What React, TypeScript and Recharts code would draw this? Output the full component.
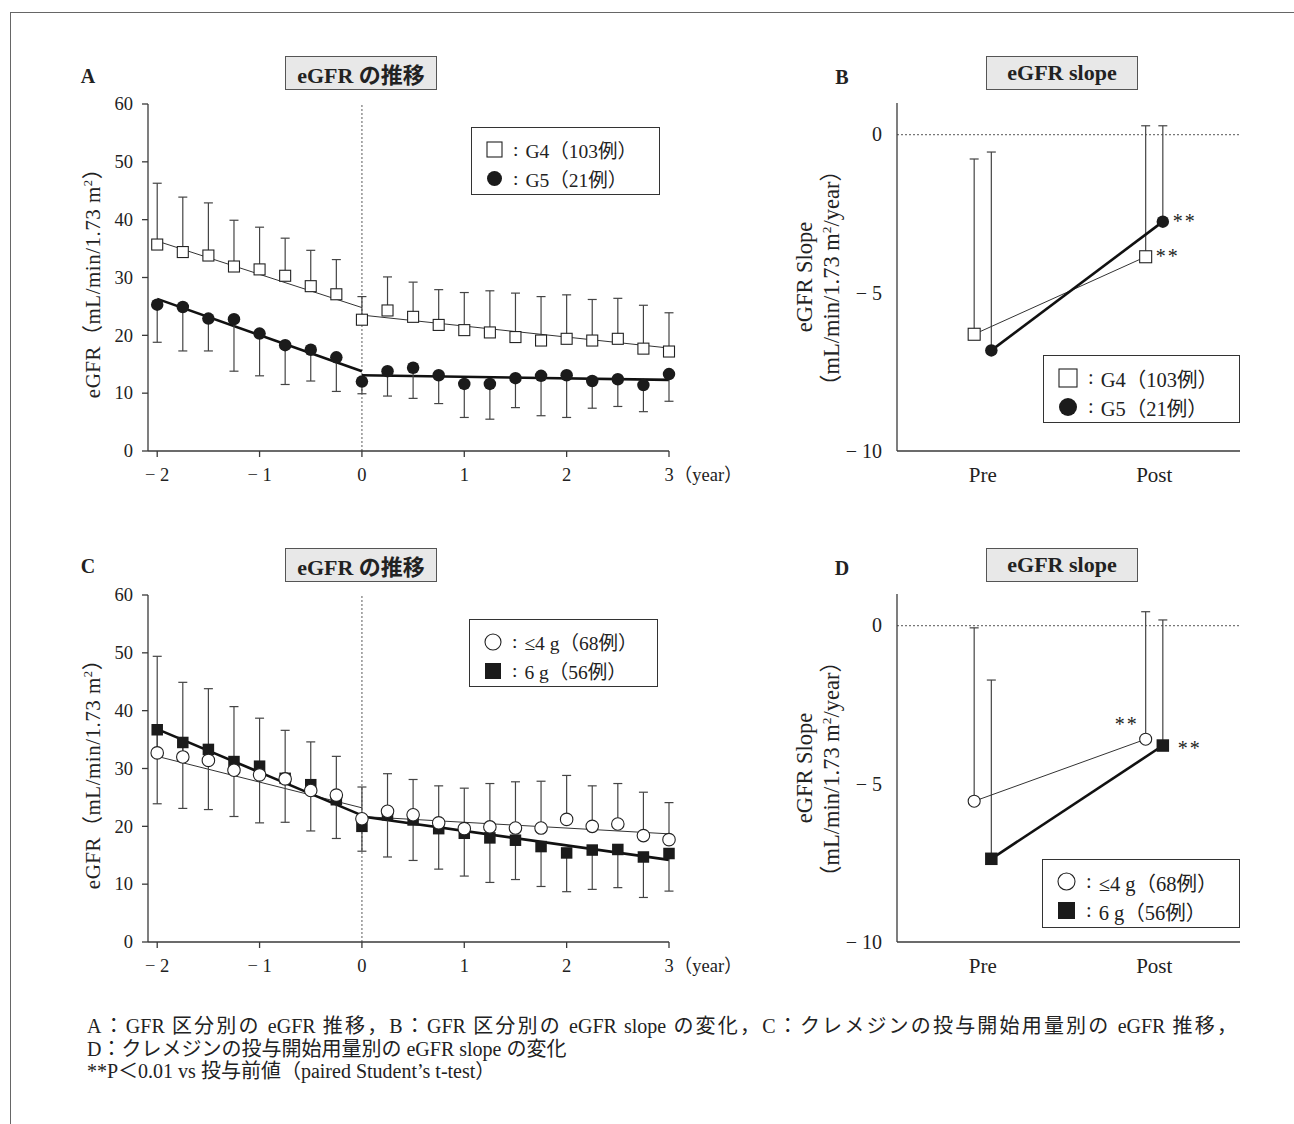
import React from 'react';
import { ComposedChart, Line, XAxis, YAxis, ErrorBar, ReferenceLine } from 'recharts';

const FONT = "'Liberation Serif', 'Noto Sans CJK JP', serif";
const INK = '#222';
const AXIS = '#3a3a3a';

// ---------- time-course panels (A, C)
const years = [-2, -1.75, -1.5, -1.25, -1, -0.75, -0.5, -0.25, 0, 0.25, 0.5, 0.75, 1, 1.25, 1.5, 1.75, 2, 2.25, 2.5, 2.75, 3];
const yearTicks = [-2, -1, 0, 1, 2, 3];
const egfrTicks = [0, 10, 20, 30, 40, 50, 60];

// Panel A: G4 (open squares, SD up) / G5 (filled circles, SD down)
const g4Mean = [35.7, 34.4, 33.8, 31.9, 31.4, 30.3, 28.5, 27.1, 22.7, 24.3, 23.2, 21.8, 20.9, 20.5, 19.7, 19.1, 19.4, 19.1, 19.4, 17.7, 17.2];
const g4Upper = [46.3, 43.9, 42.9, 39.9, 38.7, 36.8, 34.7, 33.1, 26.7, 30.1, 29.2, 27.9, 27.4, 27.7, 27.3, 26.7, 27.0, 26.2, 26.4, 25.2, 23.9];
const g5Mean = [25.3, 24.9, 22.9, 22.8, 20.3, 18.3, 17.5, 16.2, 12.0, 13.8, 14.4, 13.1, 11.6, 11.6, 12.6, 13.0, 13.1, 12.1, 12.4, 11.4, 13.3];
const g5Lower = [18.8, 17.3, 17.3, 13.8, 13.0, 11.5, 12.1, 10.3, 9.9, 9.5, 9.1, 8.2, 5.8, 5.5, 7.5, 6.1, 5.8, 7.4, 7.7, 6.8, 8.6];
const g4TrendPre = [[-2, 36.3], [0, 24.8]];
const g4TrendPost = [[0, 23.5], [3, 17.8]];
const g5TrendPre = [[-2, 26.3], [0, 13.8]];
const g5TrendPost = [[0, 13.1], [3, 12.3]];

// Panel C: <=4 g (open circles, SD up) / 6 g (filled squares, SD down)
const lowMean = [32.7, 32.0, 31.4, 29.7, 28.9, 28.2, 26.2, 25.4, 21.3, 22.6, 22.0, 20.6, 19.6, 19.9, 19.7, 19.7, 21.2, 20.0, 20.4, 18.4, 17.7];
const lowUpper = [49.4, 44.9, 43.8, 40.7, 38.7, 36.6, 34.6, 32.1, 26.8, 29.1, 28.1, 27.0, 26.6, 27.4, 27.7, 27.8, 28.8, 27.0, 27.4, 25.9, 24.1];
const highMean = [36.7, 34.5, 33.3, 31.2, 30.4, 28.3, 27.2, 24.6, 20.0, 22.0, 21.1, 19.6, 18.8, 18.0, 17.6, 16.5, 15.4, 15.9, 16.0, 14.7, 15.3];
const highLower = [23.9, 23.1, 22.9, 21.7, 20.6, 20.7, 19.2, 17.9, 15.7, 14.7, 14.1, 12.6, 11.4, 10.3, 10.8, 9.6, 8.7, 9.1, 9.4, 7.7, 8.8];
const lowTrendPre = [[-2, 32.1], [0, 23.2]];
const lowTrendPost = [[0, 21.7], [3, 18.7]];
const highTrendPre = [[-2, 36.8], [0, 21.9]];
const highTrendPost = [[0, 21.7], [3, 14.2]];

// ---------- slope panels (B, D)
const slopeCats = ['Pre', 'Post'];
const slopePos = [1, 3];
const slopeTicks = [-10, -5, 0];
const bG4Mean = [-6.31, -3.86];
const bG4Upper = [-0.77, 0.28];
const bG5Mean = [-6.82, -2.75];
const bG5Upper = [-0.55, 0.28];
const dLowMean = [-5.55, -3.59];
const dLowUpper = [-0.07, 0.44];
const dHighMean = [-7.37, -3.79];
const dHighUpper = [-1.72, 0.18];

// ---------- texts
const legendA = ['G4（103例）', 'G5（21例）'];
const legendC = ['≤4 g（68例）', '6 g（56例）'];
const captionLines = [
  'A：GFR 区分別の eGFR 推移，B：GFR 区分別の eGFR slope の変化，C：クレメジンの投与開始用量別の eGFR 推移，',
  'D：クレメジンの投与開始用量別の eGFR slope の変化',
  '**P＜0.01 vs 投与前値（paired Student’s t-test）',
];

// ---------- builders
type Shape = 'openSquare' | 'filledSquare' | 'openCircle' | 'filledCircle';
const withUpper = (xs: number[], mean: number[], upper: number[]) =>
  xs.map((x, i) => ({ x, y: mean[i], err: [0, +(upper[i] - mean[i]).toFixed(2)] }));
const withLower = (xs: number[], mean: number[], lower: number[]) =>
  xs.map((x, i) => ({ x, y: mean[i], err: [+(mean[i] - lower[i]).toFixed(2), 0] }));
const trendPts = (t: number[][]) => t.map(([x, y]) => ({ x, y }));
const OFF = 0.1;

function marker(shape: Shape, size: number, cx: number, cy: number) {
  const h = size / 2;
  switch (shape) {
    case 'openSquare':
      return <rect x={cx - h} y={cy - h} width={size} height={size} fill="#fff" stroke={INK} strokeWidth={1.1} />;
    case 'filledSquare':
      return <rect x={cx - h} y={cy - h} width={size} height={size} fill="#1b1b1b" />;
    case 'openCircle':
      return <circle cx={cx} cy={cy} r={h} fill="#fff" stroke={INK} strokeWidth={1.1} />;
    default:
      return <circle cx={cx} cy={cy} r={h} fill="#1b1b1b" />;
  }
}

type Star = { dx: number; dy: number; anchor: 'start' | 'end' };
const makeDot = (shape: Shape, size: number, star?: Star) => (p: any) => {
  const { cx, cy, index } = p;
  if (cx == null || cy == null || isNaN(cx) || isNaN(cy)) return <g key={`n${index}`} />;
  return (
    <g key={`m${index}`}>
      {marker(shape, size, cx, cy)}
      {star && index === 1 ? (
        <text x={cx + star.dx} y={cy + star.dy} textAnchor={star.anchor} fontSize={20} fontFamily={FONT} fill={INK} letterSpacing={2}>
          **
        </text>
      ) : null}
    </g>
  );
};

const minusText = (v: number) => (v < 0 ? `− ${Math.abs(v)}` : `${v}`);

const valueTick = (fs: number) => (p: any) => {
  const { x, y, payload } = p;
  return (
    <text x={x} y={y} dy={fs * 0.34} textAnchor="end" fontSize={fs} fontFamily={FONT} fill={INK}>
      {minusText(payload.value)}
    </text>
  );
};

const yearTick = (p: any) => {
  const { x, y, payload } = p;
  const v = payload.value;
  if (v === 3) {
    return (
      <text x={x - 4.5} y={y} dy={22} textAnchor="start" fontSize={18.5} fontFamily={FONT} fill={INK}>
        3（year）
      </text>
    );
  }
  return (
    <text x={x} y={y} dy={22} textAnchor="middle" fontSize={18.5} fontFamily={FONT} fill={INK}>
      {minusText(v)}
    </text>
  );
};

const slopeXTick = (p: any) => {
  const { x, y, payload } = p;
  const i = slopePos.indexOf(payload.value);
  return (
    <text x={x} y={y} dy={23} textAnchor="middle" fontSize={21} fontFamily={FONT} fill={INK}>
      {slopeCats[i]}
    </text>
  );
};

type TimeProps = {
  openData: any[]; filledData: any[];
  openTrend: number[][][]; filledTrend: number[][][];
  openShape: Shape; filledShape: Shape; openSize: number; filledSize: number;
};

function TimeChart(props: TimeProps) {
  const { openData, filledData, openTrend, filledTrend, openShape, filledShape, openSize, filledSize } = props;
  return (
    <ComposedChart width={700} height={440} margin={{ top: 44, right: 81, left: 38, bottom: 19 }}>
      <XAxis
        type="number" dataKey="x" domain={[-2.09, 3]} ticks={yearTicks} interval={0}
        height={30} tickSize={6} tickMargin={2} tick={yearTick}
        axisLine={{ stroke: AXIS, strokeWidth: 1.3 }} tickLine={{ stroke: AXIS, strokeWidth: 1.3 }}
      />
      <YAxis
        type="number" domain={[0, 60]} ticks={egfrTicks} interval={0}
        width={60} tickSize={6} tickMargin={9} tick={valueTick(18.5)}
        axisLine={{ stroke: AXIS, strokeWidth: 1.3 }} tickLine={{ stroke: AXIS, strokeWidth: 1.3 }}
      />
      <ReferenceLine x={0} stroke="#777" strokeDasharray="2 2" strokeWidth={1.2} />
      {openTrend.map((t, i) => (
        <Line key={`ot${i}`} data={trendPts(t)} dataKey="y" type="linear" stroke="#333" strokeWidth={1} dot={false} activeDot={false} isAnimationActive={false} />
      ))}
      {filledTrend.map((t, i) => (
        <Line key={`ft${i}`} data={trendPts(t)} dataKey="y" type="linear" stroke="#111" strokeWidth={2.6} dot={false} activeDot={false} isAnimationActive={false} />
      ))}
      <Line data={openData} dataKey="y" stroke="none" dot={false} activeDot={false} isAnimationActive={false}>
        <ErrorBar dataKey="err" width={4.5} stroke="#444" strokeWidth={1.2} direction="y" />
      </Line>
      <Line data={filledData} dataKey="y" stroke="none" dot={false} activeDot={false} isAnimationActive={false}>
        <ErrorBar dataKey="err" width={4.5} stroke="#444" strokeWidth={1.2} direction="y" />
      </Line>
      <Line data={filledData} dataKey="y" stroke="none" dot={makeDot(filledShape, filledSize)} activeDot={false} isAnimationActive={false} />
      <Line data={openData} dataKey="y" stroke="none" dot={makeDot(openShape, openSize)} activeDot={false} isAnimationActive={false} />
    </ComposedChart>
  );
}

type SlopeProps = {
  openData: any[]; filledData: any[]; openShape: Shape; filledShape: Shape;
  openStar: Star; filledStar: Star;
};

function SlopeChart(props: SlopeProps) {
  const { openData, filledData, openShape, filledShape, openStar, filledStar } = props;
  return (
    <ComposedChart width={480} height={440} margin={{ top: 43, right: 30, left: 47, bottom: 19 }}>
      <XAxis
        type="number" dataKey="x" domain={[0, 4]} ticks={slopePos} interval={0}
        height={30} tickSize={0} tickMargin={8} tick={slopeXTick} tickLine={false}
        axisLine={{ stroke: AXIS, strokeWidth: 1.3 }}
      />
      <YAxis
        type="number" domain={[-10, 1]} ticks={slopeTicks} interval={0}
        width={60} tickSize={0} tickMargin={15} tick={valueTick(20)} tickLine={false}
        axisLine={{ stroke: AXIS, strokeWidth: 1.3 }}
      />
      <ReferenceLine y={0} stroke="#777" strokeDasharray="2 2" strokeWidth={1.2} />
      <Line data={openData} dataKey="y" stroke="none" dot={false} activeDot={false} isAnimationActive={false}>
        <ErrorBar dataKey="err" width={4.5} stroke="#444" strokeWidth={1.2} direction="y" />
      </Line>
      <Line data={filledData} dataKey="y" stroke="none" dot={false} activeDot={false} isAnimationActive={false}>
        <ErrorBar dataKey="err" width={4.5} stroke="#444" strokeWidth={1.2} direction="y" />
      </Line>
      <Line data={openData} dataKey="y" type="linear" stroke="#333" strokeWidth={1} dot={makeDot(openShape, 12, openStar)} activeDot={false} isAnimationActive={false} />
      <Line data={filledData} dataKey="y" type="linear" stroke="#111" strokeWidth={2.6} dot={makeDot(filledShape, 12.5, filledStar)} activeDot={false} isAnimationActive={false} />
    </ComposedChart>
  );
}

function LegendBox(p: { left: number; top: number; width: number; height: number; shapes: Shape[]; labels: string[]; size: number; fs: number; textLeft: number }) {
  const rowsY = [21.5, 50.5];
  return (
    <div style={{ position: 'absolute', left: p.left, top: p.top, width: p.width, height: p.height, border: '1.3px solid #333', boxSizing: 'border-box', background: '#fff' }}>
      {p.labels.map((lab, i) => (
        <div key={i} style={{ position: 'absolute', left: 14, top: rowsY[i] - 15, height: 30, display: 'flex', alignItems: 'center', whiteSpace: 'nowrap', fontSize: p.fs, fontFamily: FONT, color: INK }}>
          <svg width={p.size + 2} height={p.size + 2} style={{ display: 'block' }}>
            {marker(p.shapes[i], p.size, p.size / 2 + 1, p.size / 2 + 1)}
          </svg>
          <span style={{ marginLeft: p.textLeft }}>:</span>
          <span style={{ marginLeft: 7 }}>{lab}</span>
        </div>
      ))}
    </div>
  );
}

function TitleBox(p: { left: number; top: number; text: string }) {
  return (
    <div style={{ position: 'absolute', left: p.left, top: p.top, width: 152, height: 34, border: '1.3px solid #555', background: '#e8e8e8', boxSizing: 'border-box', display: 'flex', alignItems: 'center', justifyContent: 'center', fontWeight: 'bold', fontSize: 22, fontFamily: FONT, color: INK, whiteSpace: 'nowrap' }}>
      {p.text}
    </div>
  );
}

function Letter(p: { cx: number; cy: number; text: string }) {
  return (
    <div style={{ position: 'absolute', left: p.cx - 10, top: p.cy - 12, width: 20, height: 24, lineHeight: '24px', textAlign: 'center', fontWeight: 'bold', fontSize: 20, fontFamily: FONT, color: INK }}>
      {p.text}
    </div>
  );
}

function VLabel(p: { cx: number; cy: number; text: React.ReactNode; fs: number; ls?: number }) {
  return (
    <div style={{ position: 'absolute', left: p.cx, top: p.cy, transform: 'translate(-50%, -50%) rotate(-90deg)', whiteSpace: 'nowrap', fontSize: p.fs, fontFamily: FONT, color: INK, lineHeight: 1, letterSpacing: p.ls || 0 }}>
      {p.text}
    </div>
  );
}

export default function App() {
  const aOpen = withUpper(years, g4Mean, g4Upper);
  const aFilled = withLower(years, g5Mean, g5Lower);
  const cOpen = withUpper(years, lowMean, lowUpper);
  const cFilled = withLower(years, highMean, highLower);
  const bOpen = withUpper(slopePos.map((x) => x - OFF), bG4Mean, bG4Upper);
  const bFilled = withUpper(slopePos.map((x) => x + OFF), bG5Mean, bG5Upper);
  const dOpen = withUpper(slopePos.map((x) => x - OFF), dLowMean, dLowUpper);
  const dFilled = withUpper(slopePos.map((x) => x + OFF), dHighMean, dHighUpper);

  const egfrLabel = <span>eGFR（mL/min/1.73 m<sup style={{ fontSize: '0.6em' }}>2</sup>）</span>;
  const slopeUnit = <span>（mL/min/1.73 m<sup style={{ fontSize: '0.6em' }}>2</sup>/year）</span>;

  return (
    <div style={{ position: 'absolute', left: 0, top: 0, width: 1294, height: 1124, background: '#fff', overflow: 'hidden' }}>
      <div style={{ position: 'absolute', left: 10, top: 12, width: 1290, height: 1120, borderTop: '1.5px solid #666', borderLeft: '1.5px solid #666' }} />

      {/* Panel A */}
      <div style={{ position: 'absolute', left: 50, top: 60 }}>
        <TimeChart openData={aOpen} filledData={aFilled} openTrend={[g4TrendPre, g4TrendPost]} filledTrend={[g5TrendPre, g5TrendPost]}
          openShape="openSquare" filledShape="filledCircle" openSize={11} filledSize={12.5} />
      </div>
      <Letter cx={88} cy={76} text="A" />
      <TitleBox left={285} top={56} text="eGFR の推移" />
      <VLabel cx={93} cy={278} text={egfrLabel} fs={21} ls={0.5} />
      <LegendBox left={471} top={127} width={189} height={68} shapes={['openSquare', 'filledCircle']} labels={legendA} size={15} fs={19.5} textLeft={10} />

      {/* Panel B */}
      <div style={{ position: 'absolute', left: 790, top: 60 }}>
        <SlopeChart openData={bOpen} filledData={bFilled} openShape="openSquare" filledShape="filledCircle"
          openStar={{ dx: 10, dy: 6, anchor: 'start' }} filledStar={{ dx: 10, dy: 6, anchor: 'start' }} />
      </div>
      <Letter cx={842} cy={77} text="B" />
      <TitleBox left={986} top={56} text="eGFR slope" />
      <VLabel cx={805} cy={277} text="eGFR Slope" fs={22.5} />
      <VLabel cx={831} cy={278} text={slopeUnit} fs={22.5} />
      <LegendBox left={1043} top={355} width={197} height={68} shapes={['openSquare', 'filledCircle']} labels={legendA} size={18} fs={20.5} textLeft={10} />

      {/* Panel C */}
      <div style={{ position: 'absolute', left: 50, top: 551 }}>
        <TimeChart openData={cOpen} filledData={cFilled} openTrend={[lowTrendPre, lowTrendPost]} filledTrend={[highTrendPre, highTrendPost]}
          openShape="openCircle" filledShape="filledSquare" openSize={12.5} filledSize={11.5} />
      </div>
      <Letter cx={88} cy={566} text="C" />
      <TitleBox left={285} top={548} text="eGFR の推移" />
      <VLabel cx={93} cy={769} text={egfrLabel} fs={21} ls={0.5} />
      <LegendBox left={469} top={619} width={189} height={68} shapes={['openCircle', 'filledSquare']} labels={legendC} size={16} fs={19.5} textLeft={10} />

      {/* Panel D */}
      <div style={{ position: 'absolute', left: 790, top: 551 }}>
        <SlopeChart openData={dOpen} filledData={dFilled} openShape="openCircle" filledShape="filledSquare"
          openStar={{ dx: -7, dy: -8, anchor: 'end' }} filledStar={{ dx: 15, dy: 9, anchor: 'start' }} />
      </div>
      <Letter cx={842} cy={568} text="D" />
      <TitleBox left={986} top={548} text="eGFR slope" />
      <VLabel cx={805} cy={768} text="eGFR Slope" fs={22.5} />
      <VLabel cx={831} cy={769} text={slopeUnit} fs={22.5} />
      <LegendBox left={1042} top={859} width={198} height={69} shapes={['openCircle', 'filledSquare']} labels={legendC} size={17} fs={20.5} textLeft={10} />

      {/* Caption */}
      {captionLines.map((t, i) => (
        <div key={i} style={{
          position: 'absolute', left: 87, top: 1015 + i * 22.5, height: 23, lineHeight: '23px', fontSize: 20, fontFamily: FONT, color: INK, whiteSpace: 'nowrap',
          ...(i === 0 ? { width: 1150, textAlign: 'justify' as const, textAlignLast: 'justify' as const } : {}),
        }}>
          {t}
        </div>
      ))}
    </div>
  );
}
